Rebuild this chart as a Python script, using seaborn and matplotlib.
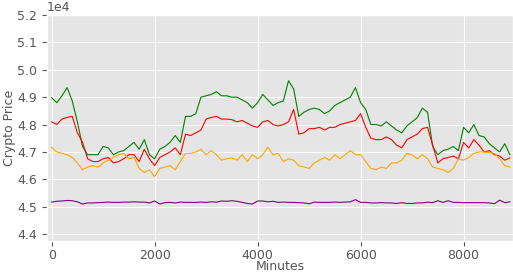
import numpy as np
import pandas as pd
import matplotlib
matplotlib.use("Agg")
import matplotlib.pyplot as plt
import seaborn as sns

# minutes, sampled every 100 from the picture
minutes = list(range(0, 9000, 100))

green_price = [
    48980, 48800, 49050, 49350, 48860, 48100, 47200, 46900, 46900, 46900,
    47200, 47150, 46900, 47000, 47050, 47200, 47350, 47100, 47450, 46900,
    46750, 47100, 47200, 47350, 47600, 47350, 48300, 48300, 48400, 49000,
    49050, 49100, 49200, 49050, 49050, 49000, 49000, 48900, 48800, 48600,
    48800, 49100, 48900, 48700, 48800, 48860, 49600, 49300, 48300, 48450,
    48550, 48600, 48550, 48400, 48500, 48700, 48800, 48900, 49000, 49350,
    48800, 48550, 48000, 48000, 47950, 48100, 47950, 47800, 47700, 47950,
    48100, 48250, 48600, 48450, 47200, 46900, 47050, 47100, 47200, 47050,
    47900, 47700, 48000, 47600, 47550, 47300, 47150, 47000, 47300, 46900,
]

red_price = [
    48100, 48000, 48200, 48260, 48300, 47700, 47350, 46750, 46650, 46650,
    46750, 46800, 46600, 46650, 46750, 46900, 46900, 46650, 47100, 46750,
    46500, 46800, 46900, 47000, 47150, 46900, 47650, 47600, 47700, 47800,
    48200, 48260, 48300, 48200, 48200, 48180, 48100, 48150, 48050, 47950,
    47900, 48100, 48150, 48000, 47950, 48000, 48100, 48550, 47650, 47700,
    47850, 47850, 47900, 47800, 47900, 47900, 48000, 48050, 48100, 48150,
    48400, 47900, 47500, 47450, 47450, 47550, 47450, 47250, 47150, 47450,
    47550, 47650, 47850, 47900, 47250, 46600, 46750, 46800, 46850, 46750,
    47350, 47150, 47450, 47250, 47000, 47050, 46900, 46850, 46700, 46780,
]

orange_price = [
    47170, 47000, 46950, 46900, 46800, 46600, 46350, 46450, 46500, 46450,
    46600, 46700, 46800, 46900, 46950, 46750, 46800, 46400, 46250, 46350,
    46100, 46400, 46450, 46500, 46350, 46650, 46950, 46950, 47000, 47100,
    46900, 47050, 46900, 46700, 46750, 46780, 46700, 46900, 46650, 46900,
    46750, 46900, 47170, 46900, 46950, 46650, 46750, 46700, 46500, 46450,
    46400, 46600, 46700, 46800, 46700, 46900, 46750, 46900, 47050, 46900,
    46900, 46650, 46400, 46350, 46450, 46400, 46600, 46600, 46700, 46950,
    46900, 46750, 46900, 46750, 46450, 46400, 46350, 46250, 46400, 46750,
    46700, 46800, 46950, 47000, 47000, 46980, 46950, 46750, 46500, 46450,
]

purple_price = [
    45170, 45200, 45210, 45230, 45220, 45180, 45100, 45140, 45140, 45150,
    45160, 45170, 45160, 45160, 45170, 45170, 45180, 45170, 45170, 45140,
    45210, 45100, 45150, 45160, 45140, 45170, 45160, 45160, 45160, 45170,
    45160, 45180, 45170, 45210, 45200, 45220, 45200, 45160, 45120, 45100,
    45210, 45210, 45180, 45200, 45160, 45170, 45160, 45160, 45150, 45140,
    45110, 45170, 45160, 45160, 45160, 45170, 45160, 45170, 45180, 45260,
    45160, 45160, 45140, 45140, 45150, 45140, 45140, 45120, 45150, 45120,
    45120, 45140, 45140, 45170, 45150, 45220, 45160, 45220, 45160, 45160,
    45150, 45150, 45150, 45150, 45150, 45140, 45110, 45240, 45150, 45180,
]

series = {
    "green": green_price,
    "red": red_price,
    "orange": orange_price,
    "purple": purple_price,
}

df = pd.concat(
    [pd.DataFrame({"Minutes": minutes, "price": vals, "coin": name})
     for name, vals in series.items()],
    ignore_index=True,
)

plt.style.use("ggplot")
plt.rcParams["font.size"] = 9
plt.rcParams["axes.labelsize"] = 9
plt.rcParams["xtick.labelsize"] = 9
plt.rcParams["ytick.labelsize"] = 9
plt.rcParams["xtick.major.pad"] = 2.5

fig = plt.figure(figsize=(5.13, 2.73), dpi=100)
ax = fig.add_axes([47 / 513, 32 / 273, 466 / 513, 226 / 273])

sns.lineplot(
    data=df, x="Minutes", y="price", hue="coin",
    palette={k: k for k in series}, linewidth=0.8, legend=False, ax=ax,
)

ax.set_xlim(-90, 8960)
ax.set_ylim(43750, 52000)
ax.set_yticks(np.arange(44000, 52001, 1000))
ax.ticklabel_format(axis="y", style="sci", scilimits=(4, 4))
ax.set_xlabel("Minutes", labelpad=-1.5)
ax.set_ylabel("Crypto Price", labelpad=1)

fig.savefig("out.png", dpi=100)
